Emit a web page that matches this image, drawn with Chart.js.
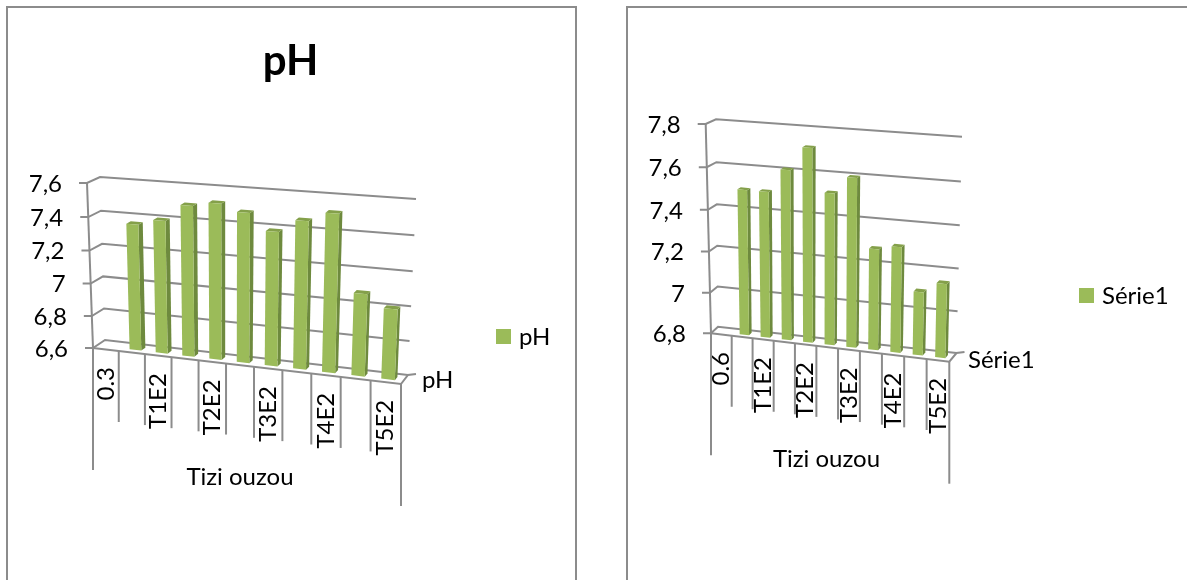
<!DOCTYPE html>
<html>
<head>
<meta charset="UTF-8">
<title>pH Tizi ouzou</title>
<script src="https://cdn.jsdelivr.net/npm/chart.js@4"></script>
<style>
    html, body { margin: 0; background: #fff; overflow: hidden; }
    body { width: 1187px; height: 580px; position: relative; }
    .cadre { position: absolute; top: 6px; height: 580px; border: 2px solid #8c8c8c; border-bottom: none; box-sizing: border-box; }
    canvas { position: absolute; top: 0; }
</style>
</head>
<body>
<div class="cadre" style="left:6px;width:571px"></div>
<div class="cadre" style="left:626px;width:570px"></div>
<canvas id="graphePH" style="left:0"></canvas>
<canvas id="grapheSerie" style="left:600px"></canvas>

<script>
    const categoriesPH = ['0.3', '', 'T1E2', '', 'T2E2', '', 'T3E2', '', 'T4E2', '', 'T5E2'];
    const valeursPH = [null, 7.365, 7.40, 7.50, 7.525, 7.485, 7.39, 7.465, 7.52, 7.08, 7.01];
    const ticksPH = ['6,6', '6,8', '7', '7,2', '7,4', '7,6'];

    const categoriesSerie = ['0.6', '', 'T1E2', '', 'T2E2', '', 'T3E2', '', 'T4E2', '', 'T5E2'];
    const valeursSerie = [null, 7.50, 7.50, 7.61, 7.72, 7.52, 7.60, 7.28, 7.30, 7.10, 7.15];
    const ticksSerie = ['6,8', '7', '7,2', '7,4', '7,6', '7,8'];

    const VERT = '#9bbb59', VERT_COTE = '#6e8a3e', VERT_DESSUS = '#84a04a';
    const GRIS = '#8c8c8c';
    const POLICE = 'Lato, sans-serif';
    Chart.defaults.font.family = POLICE;

    function deforme(t, w) {
        return t / (t + w * (1 - t));
    }

    function melange(a, b, t) {
        return [a[0] + (b[0] - a[0]) * t, a[1] + (b[1] - a[1]) * t];
    }

    // quad = haut gauche, haut droite, bas droite, bas gauche
    function surQuad(q, u, t) {
        return melange(melange(q[0], q[1], u), melange(q[3], q[2], u), t);
    }

    function creerGraphe(id, label, categories, valeurs, ticks, yMin, yMax, vue, titre) {
        function projette(chart, px, py, prof) {
            const a = chart.chartArea;
            const u = deforme((px - a.left) / (a.right - a.left), vue.wu);
            const t = deforme((py - a.top) / (a.bottom - a.top), 0.96);
            return melange(surQuad(vue.fond, u, t), surQuad(vue.face, u, t), prof);
        }

        function ligne(ctx, pts) {
            ctx.beginPath();
            pts.forEach((p, i) => i ? ctx.lineTo(p[0], p[1]) : ctx.moveTo(p[0], p[1]));
            ctx.stroke();
        }

        function polygone(ctx, pts, couleur) {
            ctx.fillStyle = couleur;
            ctx.beginPath();
            pts.forEach((p, i) => i ? ctx.lineTo(p[0], p[1]) : ctx.moveTo(p[0], p[1]));
            ctx.closePath();
            ctx.fill();
        }

        const plugin3d = {
            id: 'plugin3d',
            beforeDatasetsDraw(chart) {
                const ctx = chart.ctx, y = chart.scales.y, x = chart.scales.x, a = chart.chartArea;
                ctx.save();
                ctx.translate(-vue.ox, 0);
                ctx.strokeStyle = GRIS;
                ctx.lineWidth = 2;
                ctx.fillStyle = '#000';
                ctx.font = '24px ' + POLICE;
                ctx.textAlign = 'right';
                ctx.textBaseline = 'middle';

                // grille : graduation, mur de gauche puis mur du fond
                y.ticks.forEach((tick, i) => {
                    const py = y.getPixelForTick(i);
                    const f = projette(chart, a.left, py, 1);
                    ligne(ctx, [[f[0] - 8, f[1]], f, projette(chart, a.left, py, 0), projette(chart, a.right, py, 0)]);
                    ctx.fillText(tick.label, f[0] - 25, f[1] + 1);
                });
                ligne(ctx, [projette(chart, a.left, a.top, 1), projette(chart, a.left, a.bottom, 1)]);

                // bord avant du sol et bord de droite
                const basD = projette(chart, a.right, a.bottom, 1), fondD = projette(chart, a.right, a.bottom, 0);
                ligne(ctx, [projette(chart, a.left, a.bottom, 1), basD, fondD, [fondD[0] + 8, fondD[1] - 1]]);

                // separations des categories sous le sol
                const n = categories.length;
                for (let i = 0; i <= n; i++) {
                    const p = projette(chart, x.getPixelForValue(i - 0.5), a.bottom, 1);
                    const longueur = (i === 0 || i === n) ? 122 : 71;
                    ligne(ctx, [p, [p[0], p[1] + longueur]]);
                }
                ctx.restore();
            },
            beforeDatasetDraw(chart, args) {
                const ctx = chart.ctx;
                ctx.save();
                ctx.translate(-vue.ox, 0);
                args.meta.data.forEach((barre, i) => {
                    if (valeurs[i] === null) return;
                    const g = barre.x - barre.width / 2, d = barre.x + barre.width / 2;
                    const pf = vue.profAvant, pb = vue.profArriere;
                    const hg = projette(chart, g, barre.y, pf), hd = projette(chart, d, barre.y, pf);
                    const bg = projette(chart, g, barre.base, pf), bd = projette(chart, d, barre.base, pf);
                    const hdb = projette(chart, d, barre.y, pb), hgb = projette(chart, g, barre.y, pb);
                    const bdb = projette(chart, d, barre.base, pb);
                    polygone(ctx, [hd, hdb, bdb, bd], VERT_COTE);
                    polygone(ctx, [hg, hgb, hdb, hd], VERT_DESSUS);
                    polygone(ctx, [hg, hd, bd, bg], VERT);
                });
                ctx.restore();
                return false;
            },
            afterDatasetsDraw(chart) {
                const ctx = chart.ctx, x = chart.scales.x, a = chart.chartArea;
                ctx.save();
                ctx.translate(-vue.ox, 0);
                ctx.fillStyle = '#000';
                ctx.font = '24px ' + POLICE;
                ctx.textBaseline = 'middle';

                // libelles de categories, ecrits vers le haut
                categories.forEach((texte, i) => {
                    if (!texte) return;
                    const p = projette(chart, x.getPixelForValue(i), a.bottom, 1);
                    ctx.save();
                    ctx.translate(p[0], p[1] + 17.5);
                    ctx.rotate(-Math.PI / 2);
                    ctx.textAlign = 'right';
                    ctx.fillText(texte, 0, 0);
                    ctx.restore();
                });

                ctx.textAlign = 'center';
                ctx.fillText('Tizi ouzou', vue.groupe[0], vue.groupe[1]);

                // nom de la serie sur l'axe de profondeur et legende
                ctx.textAlign = 'left';
                ctx.fillText(label, vue.serie[0], vue.serie[1]);
                ctx.fillStyle = VERT;
                ctx.fillRect(vue.legende[0], vue.legende[1], 15, 15);
                ctx.fillStyle = '#000';
                ctx.fillText(label, vue.legende[0] + 23, vue.legende[1] + 8);
                ctx.restore();
            }
        };

        const canvas = document.getElementById(id);
        canvas.width = vue.largeur;
        canvas.height = 580;

        return new Chart(canvas.getContext('2d'), {
            type: 'bar',
            data: {
                labels: categories,
                datasets: [{
                    label: label,
                    data: valeurs,
                    base: yMin,
                    backgroundColor: VERT,
                    barPercentage: 0.45,
                    categoryPercentage: 1
                }]
            },
            options: {
                responsive: false,
                animation: false,
                scales: {
                    x: { display: false },
                    y: {
                        display: false,
                        min: yMin,
                        max: yMax,
                        ticks: { stepSize: 0.2, callback: (v, i) => ticks[i] }
                    }
                },
                plugins: {
                    legend: { display: false },
                    tooltip: { enabled: false },
                    title: titre ? {
                        display: true,
                        text: titre,
                        color: '#000',
                        font: { family: POLICE, size: 42, weight: 'bold' },
                        padding: { top: 36, bottom: 0 }
                    } : { display: false }
                }
            },
            plugins: [plugin3d]
        });
    }

    creerGraphe('graphePH', 'pH', categoriesPH, valeursPH, ticksPH, 6.6, 7.6, {
        ox: 0, largeur: 581, wu: 1.096,
        fond: [[100, 177], [416, 199], [408, 375], [105, 340]],
        face: [[87, 183], [408, 207], [401, 384], [93, 348]],
        profAvant: 0.68, profArriere: 0.32,
        groupe: [240, 477], serie: [422, 380], legende: [496, 329]
    }, 'pH');

    creerGraphe('grapheSerie', 'Série1', categoriesSerie, valeursSerie, ticksSerie, 6.8, 7.8, {
        ox: 600, largeur: 587, wu: 1.051,
        fond: [[716, 119.3], [962, 136.7], [956.5, 353], [718, 326.7]],
        face: [[705.7, 124], [954, 143.7], [949.3, 361.7], [711, 333.3]],
        profAvant: 0.68, profArriere: 0.32,
        groupe: [826.5, 459], serie: [968, 360], legende: [1079, 288]
    });
</script>
</body>
</html>
